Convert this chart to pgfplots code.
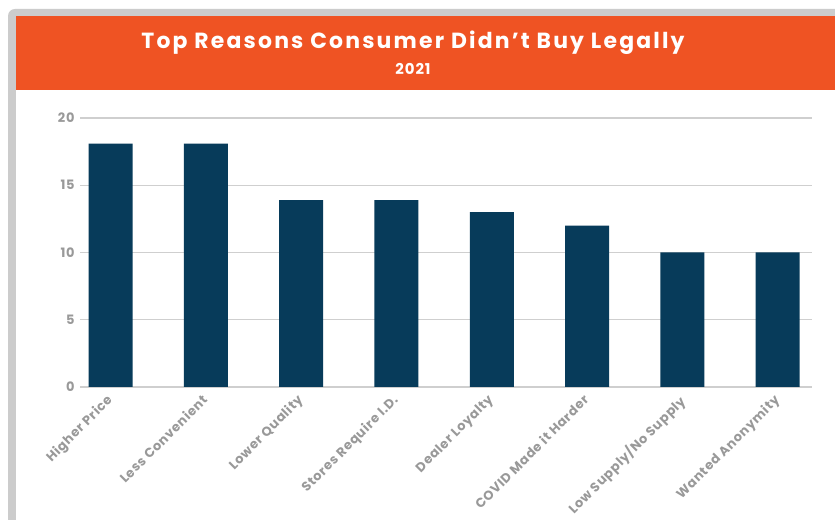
\documentclass[border=0pt]{standalone}
\usepackage{fontspec}
\setmainfont{Poppins}
\usepackage{pgfplots}
\pgfplotsset{compat=1.18}
\definecolor{orangeT}{HTML}{EF5323}
\definecolor{barc}{HTML}{073B5A}
\definecolor{gridc}{HTML}{CFCFCF}
\definecolor{labc}{HTML}{999999}
\definecolor{framec}{HTML}{CCCCCC}
\begin{document}
\begin{tikzpicture}[x=1bp,y=1bp]
\useasboundingbox (0,0) rectangle (835,520);
\clip (0,0) rectangle (835,520);
\fill[white] (0,0) rectangle (835,520);
\fill[framec, rounded corners=7bp] (8,-20) rectangle (860,511);
\fill[white] (16,-5) rectangle (840,504);
\fill[orangeT] (16,430) rectangle (840,504);
\node[white, font=\bfseries\fontsize{22}{24}\selectfont\addfontfeatures{LetterSpace=10}] at (413,477) {Top Reasons Consumer Didn’t Buy Legally};
\node[white, font=\bfseries\fontsize{15}{17}\selectfont\addfontfeatures{LetterSpace=6}] at (413,451) {2021};
\begin{axis}[
  at={(80bp,133bp)}, anchor=south west,
  width=732bp, height=269bp, scale only axis,
  xmin=-0.32, xmax=7.36, ymin=0, ymax=20,
  ytick={0,5,10,15,20},
  xtick={0,1,2,3,4,5,6,7},
  xticklabels={Higher Price,Less Convenient,Lower Quality,Stores Require I.D.,Dealer Loyalty,COVID Made it Harder,Low Supply/No Supply,Wanted Anonymity},
  ymajorgrids, grid style={gridc, line width=1.2bp},
  axis line style={draw=none},
  major tick length=0pt,
  /pgf/number format/assume math mode=true,
  tick label style={labc, font=\bfseries\fontsize{13}{15}\selectfont\addfontfeatures{LetterSpace=5}},
  yticklabel style={xshift=-2bp},
  x tick label style={rotate=45, anchor=north east, inner sep=1bp, xshift=-7bp, yshift=0bp},
]
\addplot[ybar, bar width=44bp, bar shift=0pt, fill=barc, draw=none] coordinates {
(0,18.1) (1,18.1) (2,13.9) (3,13.9) (4,13) (5,12) (6,10) (7,10)};
\end{axis}
\end{tikzpicture}
\end{document}
